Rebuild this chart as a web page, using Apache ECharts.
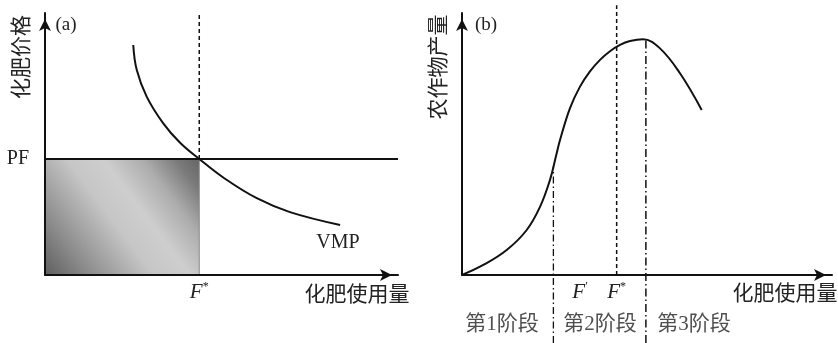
<!DOCTYPE html>
<html><head><meta charset="utf-8">
<script src="https://cdn.jsdelivr.net/npm/echarts@6/dist/echarts.min.js"></script>
<style>html,body{margin:0;padding:0;background:#fff}#c{width:838px;height:343px}</style>
</head><body><div id="c"></div>
<script>
// ---------- Panel (a): fertilizer price vs. use ----------
const aPF = 44.3;            // price of fertilizer
const aFstar = 43.7;         // optimal use F*
const vmpX = [25.0, 26.0, 28.8, 33.5, 38.2, 43.7, 50.5, 60.0, 69.4, 83.6];
const vmpY = [87.8, 78.2, 68.1, 57.9, 50.6, 44.3, 37.2, 29.3, 24.0, 19.1];
const aDashTop = 99.2;

// ---------- Panel (b): crop yield vs. fertilizer use ----------
const yieldX = [0, 5.76, 12.08, 17.49, 21.08, 23.78, 25.41, 26.49, 29.19, 31.89, 34.59, 37.30, 40.0, 42.70, 45.41, 48.92, 53.51, 58.92, 64.78];
const yieldY = [0, 3.82, 9.54, 17.18, 26.0, 36.3, 45.4, 51.5, 63.7, 71.9, 77.7, 82.1, 85.4, 87.8, 89.3, 90.0, 86.5, 77.0, 63.0];
const bFprime = 31.9;
const bFstar = 41.8;
const stageBounds = [24.7, 49.7];
const stageTops = [41.4, 90.0];
const stageBottom = -26;
const bDashTop = 103;
const stageLabels = ['第1阶段', '第2阶段', '第3阶段'];
const stageCenters = [10.8, 37.3, 62.7];
const stageLabelY = -18.7;

const SERIF = '"Liberation Serif", "Times New Roman", "Noto Sans CJK SC", serif';
const INK = '#111';
const zip = (xs, ys) => xs.map((x, i) => [x, ys[i]]);

const arrowAxisLine = {
  show: true, onZero: false,
  symbol: ['none', 'arrow'], symbolSize: [9, 12], symbolOffset: [0, -6],
  lineStyle: { color: INK, width: 2 }
};
const starRich = {
  f: { fontFamily: SERIF, fontStyle: 'italic', fontSize: 21, color: '#222' },
  s: { fontFamily: SERIF, fontSize: 12, color: '#222', padding: [0, 0, 10, 0] }
};
function baseAxis(grid, extra) {
  return Object.assign({
    gridIndex: grid, type: 'value', min: 0, max: 100, z: 5,
    axisLine: arrowAxisLine, axisTick: { show: false }, splitLine: { show: false }
  }, extra);
}

const chart = echarts.init(document.getElementById('c'), null, { renderer: 'canvas' });
chart.setOption({
  backgroundColor: '#fff',
  animation: false,
  grid: [
    { left: 45, top: 13, right: 440, bottom: 68 },
    { left: 462, top: 13, right: 6, bottom: 68 }
  ],
  xAxis: [
    baseAxis(0, { axisLabel: { customValues: [aFstar], margin: 6, formatter: () => '{f|F}{s|*}', rich: starRich } }),
    baseAxis(1, { axisLabel: { customValues: [bFprime, bFstar], margin: 6,
      formatter: (v) => v === bFprime ? '{f|F}{s|′}' : '{f|F}{s|*}', rich: starRich } })
  ],
  yAxis: [
    baseAxis(0, { axisLabel: { customValues: [aPF], margin: 16, formatter: () => 'PF',
      fontFamily: SERIF, fontSize: 20, color: '#222' } }),
    baseAxis(1, { axisLabel: { show: false } })
  ],
  series: [
    { // PF price line + shaded cost rectangle
      type: 'line', xAxisIndex: 0, yAxisIndex: 0, symbol: 'none', z: 3,
      data: [[0, aPF], [100, aPF]],
      lineStyle: { color: INK, width: 2 },
      markArea: {
        silent: true,
        itemStyle: {
          color: new echarts.graphic.LinearGradient(0, 1, 1, 0, [
            { offset: 0, color: '#5e5e5e' },
            { offset: 0.2, color: '#8e8e8e' },
            { offset: 0.45, color: '#c6c6c6' },
            { offset: 0.6, color: '#cecece' },
            { offset: 0.76, color: '#adadad' },
            { offset: 0.9, color: '#7a7a7a' },
            { offset: 1, color: '#646464' }
          ]),
          borderColor: '#8a8a8a', borderWidth: 1
        },
        data: [[{ coord: [0, 0] }, { coord: [aFstar, aPF] }]]
      }
    },
    { // VMP curve
      type: 'line', xAxisIndex: 0, yAxisIndex: 0, symbol: 'none', smooth: 0.4, z: 4,
      data: zip(vmpX, vmpY), lineStyle: { color: INK, width: 2 }
    },
    { // F* dashed (a)
      type: 'line', xAxisIndex: 0, yAxisIndex: 0, symbol: 'none', clip: false, z: 4,
      data: [[aFstar, aPF], [aFstar, aDashTop]], lineStyle: { color: INK, width: 1.5, type: [4, 3] }
    },
    { // yield curve
      type: 'line', xAxisIndex: 1, yAxisIndex: 1, symbol: 'none', smooth: 0.4, z: 4,
      data: zip(yieldX, yieldY), lineStyle: { color: INK, width: 2 }
    },
    { // stage boundary 1
      type: 'line', xAxisIndex: 1, yAxisIndex: 1, symbol: 'none', clip: false, z: 4,
      data: [[stageBounds[0], stageBottom], [stageBounds[0], stageTops[0]]],
      lineStyle: { color: INK, width: 1.3, type: [7, 3, 1.5, 3] }
    },
    { // stage boundary 2
      type: 'line', xAxisIndex: 1, yAxisIndex: 1, symbol: 'none', clip: false, z: 4,
      data: [[stageBounds[1], stageBottom], [stageBounds[1], stageTops[1]]],
      lineStyle: { color: INK, width: 1.5, type: [8, 3, 1.5, 3] }
    },
    { // F* dashed (b)
      type: 'line', xAxisIndex: 1, yAxisIndex: 1, symbol: 'none', clip: false, z: 4,
      data: [[bFstar, 0], [bFstar, bDashTop]], lineStyle: { color: INK, width: 1.5, type: [4, 3] }
    },
    { // stage labels
      type: 'scatter', xAxisIndex: 1, yAxisIndex: 1, symbolSize: 0, clip: false, silent: true,
      data: stageCenters.map((x, i) => ({ value: [x, stageLabelY], name: stageLabels[i] })),
      label: { show: true, position: 'inside', formatter: (p) => p.name,
        fontFamily: SERIF, fontSize: 21, color: '#222' }
    }
  ],
  graphic: [
    { type: 'text', x: 66, y: 25, style: { text: '(a)', font: '19px ' + SERIF, fill: '#222', align: 'center', verticalAlign: 'middle' } },
    { type: 'text', x: 22, y: 57, rotation: Math.PI / 2, style: { text: '化肥价格', font: '21px ' + SERIF, fill: '#222', align: 'center', verticalAlign: 'middle' } },
    { type: 'text', x: 357, y: 295, style: { text: '化肥使用量', font: '21px ' + SERIF, fill: '#222', align: 'center', verticalAlign: 'middle' } },
    { type: 'text', x: 338, y: 243, style: { text: 'VMP', font: '20px ' + SERIF, fill: '#222', align: 'center', verticalAlign: 'middle' } },
    { type: 'text', x: 486, y: 25, style: { text: '(b)', font: '19px ' + SERIF, fill: '#222', align: 'center', verticalAlign: 'middle' } },
    { type: 'text', x: 439, y: 67, rotation: Math.PI / 2, style: { text: '农作物产量', font: '21px ' + SERIF, fill: '#222', align: 'center', verticalAlign: 'middle' } },
    { type: 'text', x: 785, y: 294, style: { text: '化肥使用量', font: '21px ' + SERIF, fill: '#222', align: 'center', verticalAlign: 'middle' } }
  ]
});
</script></body></html>
